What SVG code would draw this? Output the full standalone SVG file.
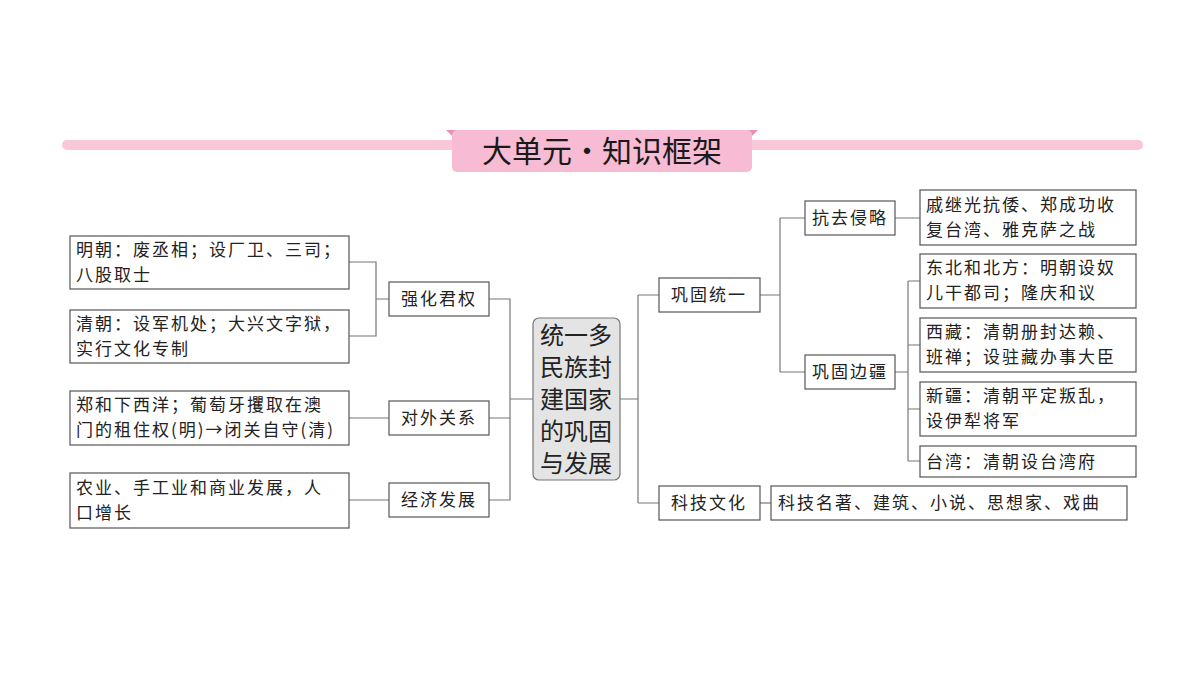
<svg xmlns="http://www.w3.org/2000/svg" width="1200" height="675" viewBox="0 0 1200 675">
<style>
.b{fill:#fff;stroke:#555;stroke-width:1.2}
.t{font-family:"Noto Sans CJK SC",sans-serif;font-size:17px;fill:#222;letter-spacing:2px}
.c{font-family:"Noto Sans CJK SC",sans-serif;font-size:24px;fill:#222}
.l{fill:none;stroke:#777;stroke-width:1.2}
</style>
<rect width="1200" height="675" fill="#fff"/>
<g id="title">
<rect x="62" y="140" width="1081" height="10" rx="5" fill="#f9c6da"/>
<polygon points="446,130 458,130 458,142" fill="#e98fb3"/>
<polygon points="758,130 746,130 746,142" fill="#e98fb3"/>
<rect x="452" y="130" width="300" height="42" rx="5" fill="#f7bcd3"/>
<text x="602" y="162" text-anchor="middle" font-family="Noto Sans CJK SC,sans-serif" font-size="30" fill="#1a1a1a">大单元·知识框架</text>
</g>
<g id="connectors" class="l">
<path d="M349,262H376V336H349M376,299H389"/>
<path d="M349,418H389M349,500H389"/>
<path d="M489,299H510V500H489M489,418H510M510,399H533"/>
<path d="M620,399H638M638,295V503M638,295H659M638,503H659"/>
<path d="M760,295H780M780,218V372M780,218H805M780,372H805"/>
<path d="M895,218H920M895,372H908M908,281V461M908,281H920M908,345H920M908,409H920M908,461H920"/>
<path d="M760,503H771"/>
</g>
<g id="n1"><rect class="b" x="70" y="236" width="279" height="53"/><text class="t" x="76" y="256">明朝：废丞相；设厂卫、三司；</text><text class="t" x="76" y="281">八股取士</text></g>
<g id="n2"><rect class="b" x="70" y="310" width="279" height="53"/><text class="t" x="76" y="330">清朝：设军机处；大兴文字狱，</text><text class="t" x="76" y="355">实行文化专制</text></g>
<g id="n3"><rect class="b" x="70" y="391" width="279" height="54"/><text class="t" x="76" y="411" letter-spacing="1">郑和下西洋；葡萄牙攫取在澳</text><text class="t" x="76" y="436" letter-spacing="0">门的租住权(明)→闭关自守(清)</text></g>
<g id="n4"><rect class="b" x="70" y="473" width="279" height="55"/><text class="t" x="76" y="494">农业、手工业和商业发展，人</text><text class="t" x="76" y="519">口增长</text></g>
<g id="n5"><rect class="b" x="389" y="282" width="100" height="34"/><text class="t" x="439" y="305" text-anchor="middle">强化君权</text></g>
<g id="n6"><rect class="b" x="389" y="401" width="100" height="34"/><text class="t" x="439" y="424" text-anchor="middle">对外关系</text></g>
<g id="n7"><rect class="b" x="389" y="483" width="100" height="34"/><text class="t" x="439" y="506" text-anchor="middle">经济发展</text></g>
<g id="center"><rect x="533" y="318" width="87" height="162" rx="6" fill="#e4e4e4" stroke="#777" stroke-width="1.2"/>
<text class="c" x="576" y="344" text-anchor="middle">统一多</text><text class="c" x="576" y="376" text-anchor="middle">民族封</text><text class="c" x="576" y="408" text-anchor="middle">建国家</text><text class="c" x="576" y="440" text-anchor="middle">的巩固</text><text class="c" x="576" y="472" text-anchor="middle">与发展</text></g>
<g id="n8"><rect class="b" x="659" y="278" width="101" height="34"/><text class="t" x="709" y="301" text-anchor="middle">巩固统一</text></g>
<g id="n9"><rect class="b" x="659" y="486" width="101" height="34"/><text class="t" x="709" y="509" text-anchor="middle">科技文化</text></g>
<g id="n10"><rect class="b" x="805" y="201" width="90" height="34"/><text class="t" x="850" y="224" text-anchor="middle">抗去侵略</text></g>
<g id="n11"><rect class="b" x="805" y="355" width="90" height="34"/><text class="t" x="850" y="378" text-anchor="middle">巩固边疆</text></g>
<g id="n12"><rect class="b" x="920" y="190" width="216" height="55"/><text class="t" x="926" y="211">戚继光抗倭、郑成功收</text><text class="t" x="926" y="236">复台湾、雅克萨之战</text></g>
<g id="n13"><rect class="b" x="920" y="254" width="216" height="54"/><text class="t" x="926" y="274">东北和北方：明朝设奴</text><text class="t" x="926" y="299">儿干都司；隆庆和议</text></g>
<g id="n14"><rect class="b" x="920" y="318" width="216" height="54"/><text class="t" x="926" y="338">西藏：清朝册封达赖、</text><text class="t" x="926" y="363">班禅；设驻藏办事大臣</text></g>
<g id="n15"><rect class="b" x="920" y="382" width="216" height="54"/><text class="t" x="926" y="402">新疆：清朝平定叛乱，</text><text class="t" x="926" y="427">设伊犁将军</text></g>
<g id="n16"><rect class="b" x="920" y="446" width="216" height="31"/><text class="t" x="926" y="468">台湾：清朝设台湾府</text></g>
<g id="n17"><rect class="b" x="771" y="486" width="356" height="34"/><text class="t" x="778" y="509">科技名著、建筑、小说、思想家、戏曲</text></g>
</svg>
